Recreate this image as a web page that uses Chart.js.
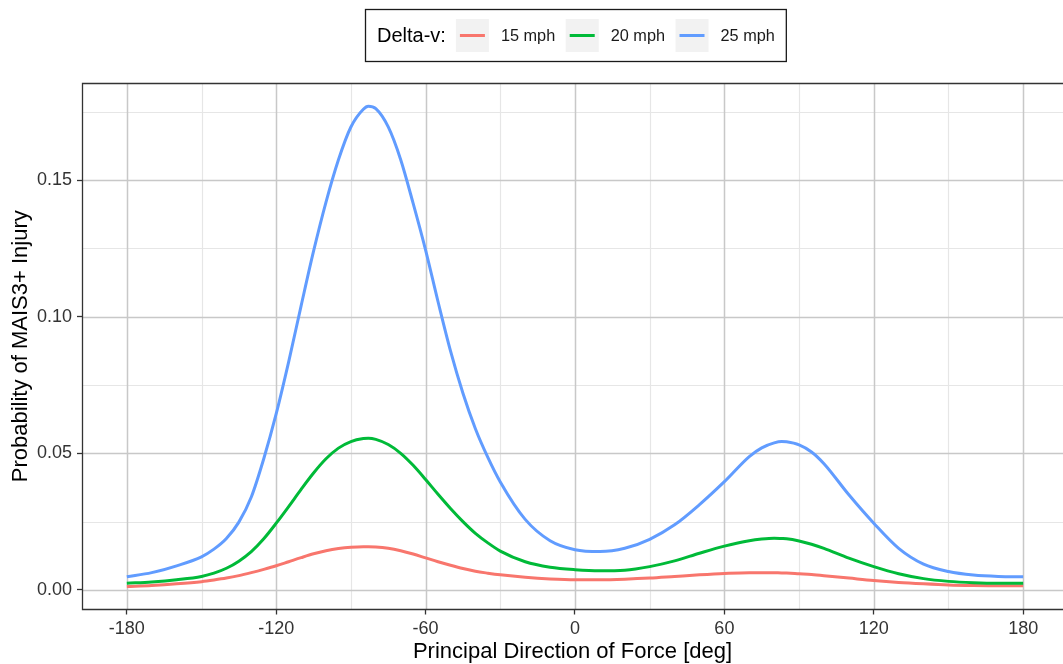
<!DOCTYPE html>
<html>
<head>
<meta charset="utf-8">
<script src="https://cdn.jsdelivr.net/npm/chart.js@4/dist/chart.umd.min.js"></script>
<style>
  html, body { margin: 0; padding: 0; background: #ffffff; overflow: hidden; }
  canvas { display: block; }
</style>
</head>
<body>
<canvas id="chart" width="1063" height="664"></canvas>
<script>
// Principal direction of force (degrees)
const angles = [-180,-170,-160,-150,-145,-140,-135,-130,-125,-120,-115,-110,-105,-100,-95,-90,-85,-83,-80,-75,-70,-65,-60,-55,-50,-45,-40,-35,-30,-20,-10,0,10,20,30,40,50,60,70,75,80,83,85,90,95,100,110,120,130,140,150,160,170,180];

// Probability of MAIS3+ injury for each delta-v
const prob15 = [0.0012,0.0016,0.0022,0.0030,0.0036,0.0043,0.0052,0.0063,0.0075,0.0088,0.0103,0.0118,0.0132,0.0143,0.0151,0.0156,0.0158,0.0158,0.0157,0.0152,0.0143,0.0131,0.0117,0.0103,0.0090,0.0078,0.0068,0.0061,0.0055,0.0046,0.0040,0.0037,0.0037,0.0039,0.0043,0.0049,0.0055,0.0060,0.0063,0.0063,0.0063,0.0062,0.0062,0.0059,0.0056,0.0052,0.0043,0.0034,0.0027,0.0022,0.0018,0.0016,0.0015,0.0015];
const prob20 = [0.0024,0.0029,0.0037,0.0049,0.0061,0.0079,0.0105,0.0140,0.0187,0.0244,0.0305,0.0368,0.0428,0.0480,0.0519,0.0543,0.0554,0.0555,0.0551,0.0532,0.0500,0.0456,0.0404,0.0350,0.0298,0.0250,0.0207,0.0172,0.0142,0.0103,0.0083,0.0074,0.0070,0.0072,0.0085,0.0106,0.0134,0.0160,0.0180,0.0186,0.0189,0.0188,0.0187,0.0179,0.0167,0.0152,0.0116,0.0085,0.0059,0.0041,0.0031,0.0026,0.0024,0.0024];
const prob25 = [0.0048,0.0063,0.0088,0.0121,0.0149,0.0188,0.0248,0.0340,0.0480,0.0645,0.0835,0.1040,0.1240,0.1420,0.1575,0.1695,0.1760,0.1771,0.1762,0.1695,0.1575,0.1415,0.1244,0.1055,0.0875,0.0720,0.0590,0.0485,0.0395,0.0258,0.0180,0.0147,0.0140,0.0152,0.0185,0.0238,0.0312,0.0396,0.0488,0.0520,0.0538,0.0543,0.0542,0.0531,0.0505,0.0462,0.0348,0.0244,0.0152,0.0094,0.0067,0.0054,0.0049,0.0048];

const seriesLabels = ['15 mph', '20 mph', '25 mph'];
const seriesColors = ['#F8766D', '#00BA38', '#619CFF'];
const legendTitle = 'Delta-v:';

// Axis ticks
const angleTicks = [-180, -120, -60, 0, 60, 120, 180];
const angleMinor = [-150, -90, -30, 30, 90, 150];
const probTicks = [0, 0.05, 0.10, 0.15];
const probTickLabels = ['0.00', '0.05', '0.10', '0.15'];
const probMinor = [0.025, 0.075, 0.125, 0.175];

const FONT = "'Liberation Sans', Arial, sans-serif";

const toPoints = vals => angles.map((a, i) => ({ x: a, y: vals[i] }));
const allSeries = [prob15, prob20, prob25];

// Panel: minor grid, major grid, then border (top, left, bottom)
const panelPlugin = {
  id: 'panel',
  beforeDatasetsDraw(chart) {
    const { ctx, chartArea: a, scales: { x, y } } = chart;
    ctx.save();
    const vline = (v, col, w) => {
      const p = Math.round(x.getPixelForValue(v)) + 0.5;
      ctx.strokeStyle = col; ctx.lineWidth = w;
      ctx.beginPath(); ctx.moveTo(p, a.top); ctx.lineTo(p, a.bottom); ctx.stroke();
    };
    const hline = (v, col, w) => {
      const p = Math.round(y.getPixelForValue(v)) + 0.5;
      ctx.strokeStyle = col; ctx.lineWidth = w;
      ctx.beginPath(); ctx.moveTo(a.left, p); ctx.lineTo(a.right, p); ctx.stroke();
    };
    angleMinor.forEach(v => vline(v, '#e6e6e6', 1.2));
    probMinor.forEach(v => hline(v, '#e6e6e6', 1.2));
    angleTicks.forEach(v => vline(v, '#c8c8c8', 1.5));
    probTicks.forEach(v => hline(v, '#c8c8c8', 1.5));

    ctx.strokeStyle = '#333333';
    ctx.lineWidth = 1.3;
    ctx.beginPath();
    ctx.moveTo(a.right, a.top + 0.5);
    ctx.lineTo(a.left + 0.5, a.top + 0.5);
    ctx.lineTo(a.left + 0.5, a.bottom);
    ctx.lineTo(a.right, a.bottom);
    ctx.stroke();
    ctx.restore();
  }
};

// Boxed legend above the panel
const legendPlugin = {
  id: 'boxLegend',
  afterDraw(chart) {
    const ctx = chart.ctx;
    ctx.save();
    const boxX = 365.5, boxY = 9.5, boxH = 52;
    const cy = boxY + boxH / 2;
    ctx.textBaseline = 'middle';
    ctx.fillStyle = '#000000';
    ctx.font = '20px ' + FONT;
    let cx = boxX + 11.5;
    ctx.fillText(legendTitle, cx, cy + 1);
    cx += ctx.measureText(legendTitle).width + 10;
    const key = 33;
    ctx.font = '16.3px ' + FONT;
    seriesLabels.forEach((lab, i) => {
      ctx.fillStyle = '#f2f2f2';
      ctx.fillRect(cx, cy - key / 2, key, key);
      ctx.strokeStyle = seriesColors[i];
      ctx.lineWidth = 3;
      ctx.beginPath();
      ctx.moveTo(cx + 4, cy); ctx.lineTo(cx + key - 4, cy);
      ctx.stroke();
      cx += key + 12;
      ctx.fillStyle = '#1a1a1a';
      ctx.fillText(lab, cx, cy + 1);
      cx += ctx.measureText(lab).width + 10.5;
    });
    const boxW = cx - boxX + 1;
    ctx.strokeStyle = '#1a1a1a';
    ctx.lineWidth = 1.3;
    ctx.strokeRect(boxX, boxY, boxW, boxH);
    ctx.restore();
  }
};

new Chart(document.getElementById('chart'), {
  type: 'line',
  data: {
    datasets: allSeries.map((vals, i) => ({
      label: seriesLabels[i],
      data: toPoints(vals),
      borderColor: seriesColors[i],
      backgroundColor: seriesColors[i],
      borderWidth: 3,
      pointRadius: 0,
      fill: false,
      cubicInterpolationMode: 'monotone',
      order: allSeries.length - i
    }))
  },
  options: {
    responsive: false,
    animation: false,
    devicePixelRatio: 1,
    layout: { padding: { top: 83, left: 0, right: 0, bottom: 0 } },
    plugins: { legend: { display: false }, tooltip: { enabled: false } },
    scales: {
      x: {
        type: 'linear',
        min: -198,
        max: 196,
        afterBuildTicks: s => { s.ticks = angleTicks.map(v => ({ value: v })); },
        afterFit: s => { s.height = 54.5; },
        grid: { drawOnChartArea: false, drawTicks: true, tickLength: 5, tickColor: '#333333', tickWidth: 1.3 },
        border: { display: false },
        ticks: {
          autoSkip: false, maxRotation: 0, padding: 4,
          color: '#333333', font: { family: FONT, size: 18 },
          callback: v => String(v)
        },
        title: {
          display: true, text: 'Principal Direction of Force [deg]',
          color: '#000000', font: { family: FONT, size: 22 },
          padding: { top: 0, bottom: -1 }
        }
      },
      y: {
        type: 'linear',
        min: -0.0072,
        max: 0.1856,
        afterBuildTicks: s => { s.ticks = probTicks.map(v => ({ value: v })); },
        afterFit: s => { s.width = 82; },
        grid: { drawOnChartArea: false, drawTicks: true, tickLength: 5, tickColor: '#333333', tickWidth: 1.3 },
        border: { display: false },
        ticks: {
          autoSkip: false, padding: 5,
          color: '#333333', font: { family: FONT, size: 18 },
          callback: v => probTickLabels[probTicks.findIndex(t => Math.abs(t - v) < 1e-9)]
        },
        title: {
          display: true, text: 'Probability of MAIS3+ Injury',
          color: '#000000', font: { family: FONT, size: 22 },
          padding: { top: 8, bottom: 0 }
        }
      }
    }
  },
  plugins: [panelPlugin, legendPlugin]
});
</script>
</body>
</html>
